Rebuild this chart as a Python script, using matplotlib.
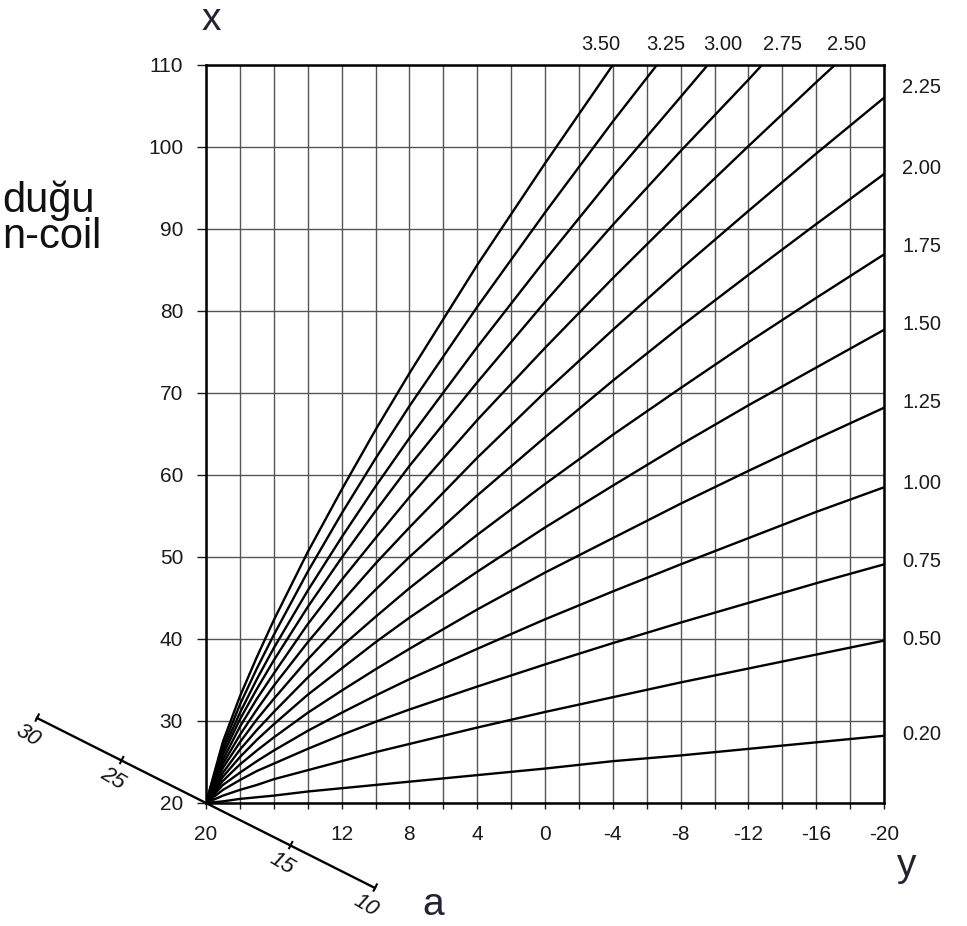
import numpy as np
import matplotlib.pyplot as plt
from matplotlib.lines import Line2D
from matplotlib.ticker import MultipleLocator, FixedLocator
from matplotlib.transforms import IdentityTransform

plt.rcParams['font.family'] = ['Liberation Sans', 'DejaVu Sans']

# y axis (horizontal) sample points
X = [20, 19, 18, 17, 16, 14, 12, 10, 8, 4, 0, -4, -8, -12, -16, -20]

# x values of each curve
y_020 = [20, 20.2, 20.5, 20.7, 20.9, 21.4, 21.8, 22.2, 22.6, 23.4, 24.2, 25.1, 25.8, 26.6, 27.4, 28.2]
y_050 = [20, 20.9, 21.6, 22.2, 22.9, 24.0, 25.1, 26.2, 27.2, 29.2, 31.1, 32.9, 34.7, 36.4, 38.1, 39.8]
y_075 = [20, 21.6, 22.8, 23.9, 24.8, 26.6, 28.3, 29.9, 31.4, 34.2, 36.9, 39.5, 42.0, 44.4, 46.8, 49.1]
y_100 = [20, 22.2, 23.7, 25.1, 26.4, 28.8, 31.0, 33.1, 35.1, 38.8, 42.4, 45.8, 49.1, 52.3, 55.5, 58.5]
y_125 = [20, 22.7, 24.7, 26.4, 28.0, 31.0, 33.7, 36.3, 38.8, 43.6, 48.1, 52.3, 56.5, 60.5, 64.4, 68.2]
y_150 = [20, 23.2, 25.6, 27.7, 29.6, 33.2, 36.4, 39.6, 42.6, 48.2, 53.6, 58.7, 63.7, 68.5, 73.1, 77.7]
y_175 = [20, 23.7, 26.5, 28.9, 31.1, 35.3, 39.1, 42.7, 46.2, 52.7, 58.9, 64.9, 70.6, 76.2, 81.6, 86.9]
y_200 = [20, 24.3, 27.4, 30.2, 32.7, 37.5, 41.9, 46.0, 50.0, 57.5, 64.6, 71.5, 78.1, 84.4, 90.6, 96.7]
y_225 = [20, 24.8, 28.3, 31.4, 34.3, 39.6, 44.5, 49.2, 53.6, 62.1, 70.1, 77.7, 85.1, 92.2, 99.2, 106.0]
y_250 = [20, 25.3, 29.3, 32.7, 35.8, 41.8, 47.2, 52.3, 57.3, 66.7, 75.5, 84.0, 92.2, 100.1, 107.9, 110.0]
y_275 = [20, 25.9, 30.2, 33.9, 37.4, 43.9, 49.9, 55.6, 61.1, 71.3, 81.1, 90.5, 99.5, 108.2, 110.0]
y_300 = [20, 26.4, 31.0, 35.1, 38.9, 45.9, 52.4, 58.6, 64.5, 75.6, 86.2, 96.4, 106.1, 110.0]
y_325 = [20, 26.9, 32.0, 36.4, 40.5, 48.2, 55.3, 62.0, 68.4, 80.5, 92.0, 103.1, 110.0]
y_350 = [20, 27.5, 33.0, 37.8, 42.3, 50.6, 58.2, 65.5, 72.4, 85.6, 98.0, 110.0]

# where the upper curves leave the top of the chart (x = 110)
top_cross = [-17.1, -12.8, -9.6, -6.6, -4.0]

right_labels = ['2.25', '2.00', '1.75', '1.50', '1.25', '1.00', '0.75', '0.50', '0.20']
right_label_y = [107.3, 97.4, 87.9, 78.4, 68.8, 59.0, 49.5, 39.9, 28.3]
top_labels = ['3.50', '3.25', '3.00', '2.75', '2.50']
top_label_x = [-3.3, -7.1, -10.5, -14.0, -17.8]

x_ticks = [20, 12, 8, 4, 0, -4, -8, -12, -16, -20]
y_ticks = [20, 30, 40, 50, 60, 70, 80, 90, 100, 110]
a_ticks = [30, 25, 15, 10]

fig = plt.figure(figsize=(9.67, 9.26), dpi=100)
ax = fig.add_axes([206/967, 123/926, 678/967, 738/926])

full = [y_020, y_050, y_075, y_100, y_125, y_150, y_175, y_200, y_225]
for ys in full:
    ax.plot(X, ys, color='black', lw=1.7, zorder=3)

cut = [y_250, y_275, y_300, y_325, y_350]
for ys, xc in zip(cut, top_cross):
    xs = X[:len(ys) - 1] + [xc]
    ax.plot(xs, ys, color='black', lw=1.7, zorder=3)

ax.set_xlim(20, -20)
ax.set_ylim(20, 110)
ax.xaxis.set_major_locator(FixedLocator(x_ticks))
ax.set_xticklabels([str(v) for v in x_ticks])
ax.xaxis.set_minor_locator(MultipleLocator(2))
ax.yaxis.set_major_locator(FixedLocator(y_ticks))
ax.set_yticklabels([str(v) for v in y_ticks])

ax.grid(True, which='both', axis='x', color='#555555', lw=1.0, zorder=1)
ax.grid(True, which='major', axis='y', color='#555555', lw=1.0, zorder=1)
ax.set_axisbelow(True)

ax.tick_params(axis='x', which='both', direction='out', length=4, width=1,
               pad=12, labelsize=15, colors='#1a1a1a')
ax.tick_params(axis='y', which='major', direction='out', length=6.5, width=1,
               pad=10, labelsize=15, colors='#1a1a1a')
for s in ax.spines.values():
    s.set_linewidth(1.8)

# curve labels
for lab, yy in zip(right_labels, right_label_y):
    ax.text(1.0 + 18/678, yy, lab, transform=ax.get_yaxis_transform(),
            ha='left', va='center', fontsize=14.5, color='#1a1a1a')
for lab, xx in zip(top_labels, top_label_x):
    ax.text(xx, 1.0 + 20/738, lab, transform=ax.get_xaxis_transform(),
            ha='center', va='center', fontsize=14.5, color='#1a1a1a')

# oblique a axis through the origin (20, 20)
fig.canvas.draw()
ox, oy = ax.transData.transform((20, 20))
d = np.array([-16.9, 8.5])
n = np.array([d[1], -d[0]]) / np.hypot(*d)   # normal, pointing up-right
ends = [np.array([ox, oy]) + (a - 20) * d for a in (30, 10)]
fig.add_artist(Line2D([ends[0][0], ends[1][0]], [ends[0][1], ends[1][1]],
                      transform=IdentityTransform(), color='black', lw=1.7))
ang = np.degrees(np.arctan2(d[1], d[0])) + 180 - 4
for a in a_ticks:
    p = np.array([ox, oy]) + (a - 20) * d
    q0, q1 = p - 3 * n, p + 4 * n
    fig.add_artist(Line2D([q0[0], q1[0]], [q0[1], q1[1]],
                          transform=IdentityTransform(), color='black', lw=1.5))
    t = p - 20 * n
    fig.text(t[0] / fig.bbox.width, t[1] / fig.bbox.height, str(a),
             ha='center', va='center', rotation=ang, style='italic',
             fontsize=16, color='#111111')

# axis letters
fig.text(211/967, 1 - 20/926, 'x', ha='center', va='center', fontsize=28, color='#222233')
fig.text(907/967, 1 - 866/926, 'y', ha='center', va='center', fontsize=28, color='#222233')
fig.text(433/967, 1 - 905/926, 'a', ha='center', va='center', fontsize=28, color='#222233')

# left-over slide text at the left edge
fig.text(2/967, 1 - 212/926, 'duğu', ha='left', va='baseline', fontsize=30, color='#111111')
fig.text(2/967, 1 - 248/926, 'n-coil', ha='left', va='baseline', fontsize=30, color='#111111')

fig.savefig('out.png', dpi=100)
